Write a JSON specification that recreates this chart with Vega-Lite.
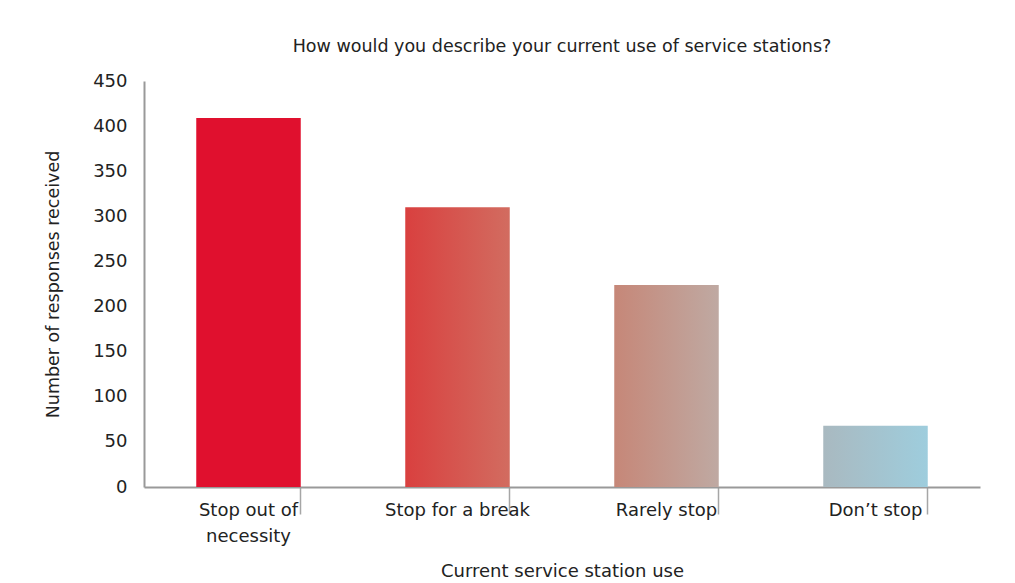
{
  "$schema": "https://vega.github.io/schema/vega-lite/v6.json",
  "width": 836,
  "height": 406,
  "autosize": {"type": "none"},
  "padding": {"left": 144, "top": 81, "right": 35, "bottom": 96},
  "background": "white",
  "title": {
    "text": "How would you describe your current use of service stations?",
    "font": "DejaVu Sans",
    "fontSize": 17.5,
    "fontWeight": "normal",
    "color": "#222222",
    "anchor": "middle",
    "offset": 17
  },
  "data": {
    "values": [
      {"use": "Stop out of necessity", "responses": 409},
      {"use": "Stop for a break", "responses": 310},
      {"use": "Rarely stop", "responses": 224},
      {"use": "Don’t stop", "responses": 68}
    ]
  },
  "encoding": {
    "x": {
      "field": "use",
      "type": "nominal",
      "sort": null,
      "scale": {"paddingInner": 0.5, "paddingOuter": 0.25},
      "axis": {
        "title": "Current service station use",
        "labelAngle": 0,
        "labelExpr": "datum.label == 'Stop out of necessity' ? ['Stop out of', 'necessity'] : datum.label",
        "labelLineHeight": 26,
        "bandPosition": 1,
        "tickExtra": false,
        "tickSize": 27,
        "tickColor": "#a6a6a6",
        "tickWidth": 1.5,
        "domainColor": "#999999",
        "domainWidth": 2,
        "labelPadding": -13,
        "labelFontSize": 18,
        "labelColor": "#222222",
        "labelFont": "DejaVu Sans",
        "titleFont": "DejaVu Sans",
        "titleFontSize": 18,
        "titleFontWeight": "normal",
        "titleColor": "#222222",
        "titlePadding": 17
      }
    },
    "y": {
      "field": "responses",
      "type": "quantitative",
      "scale": {"domain": [0, 450]},
      "axis": {
        "title": "Number of responses received",
        "values": [0, 50, 100, 150, 200, 250, 300, 350, 400, 450],
        "grid": false,
        "ticks": false,
        "domainColor": "#999999",
        "domainWidth": 2,
        "labelPadding": 17,
        "labelFontSize": 18,
        "labelColor": "#222222",
        "labelFont": "DejaVu Sans",
        "titleFont": "DejaVu Sans",
        "titleFontSize": 17.5,
        "titleFontWeight": "normal",
        "titleColor": "#222222",
        "titlePadding": 30
      }
    }
  },
  "layer": [
    {
      "transform": [{"filter": "datum.use == 'Stop out of necessity'"}],
      "mark": {"type": "bar", "fill": "#e0102e"}
    },
    {
      "transform": [{"filter": "datum.use == 'Stop for a break'"}],
      "mark": {"type": "bar", "fill": {"gradient": "linear", "x1": 0, "y1": 0, "x2": 1, "y2": 0, "stops": [{"offset": 0, "color": "#d9403f"}, {"offset": 1, "color": "#d26c60"}]}}
    },
    {
      "transform": [{"filter": "datum.use == 'Rarely stop'"}],
      "mark": {"type": "bar", "fill": {"gradient": "linear", "x1": 0, "y1": 0, "x2": 1, "y2": 0, "stops": [{"offset": 0, "color": "#c68778"}, {"offset": 1, "color": "#bfa9a2"}]}}
    },
    {
      "transform": [{"filter": "datum.use == 'Don’t stop'"}],
      "mark": {"type": "bar", "fill": {"gradient": "linear", "x1": 0, "y1": 0, "x2": 1, "y2": 0, "stops": [{"offset": 0, "color": "#a9b9c0"}, {"offset": 1, "color": "#9ecddd"}]}}
    }
  ],
  "config": {"view": {"stroke": null}}
}
